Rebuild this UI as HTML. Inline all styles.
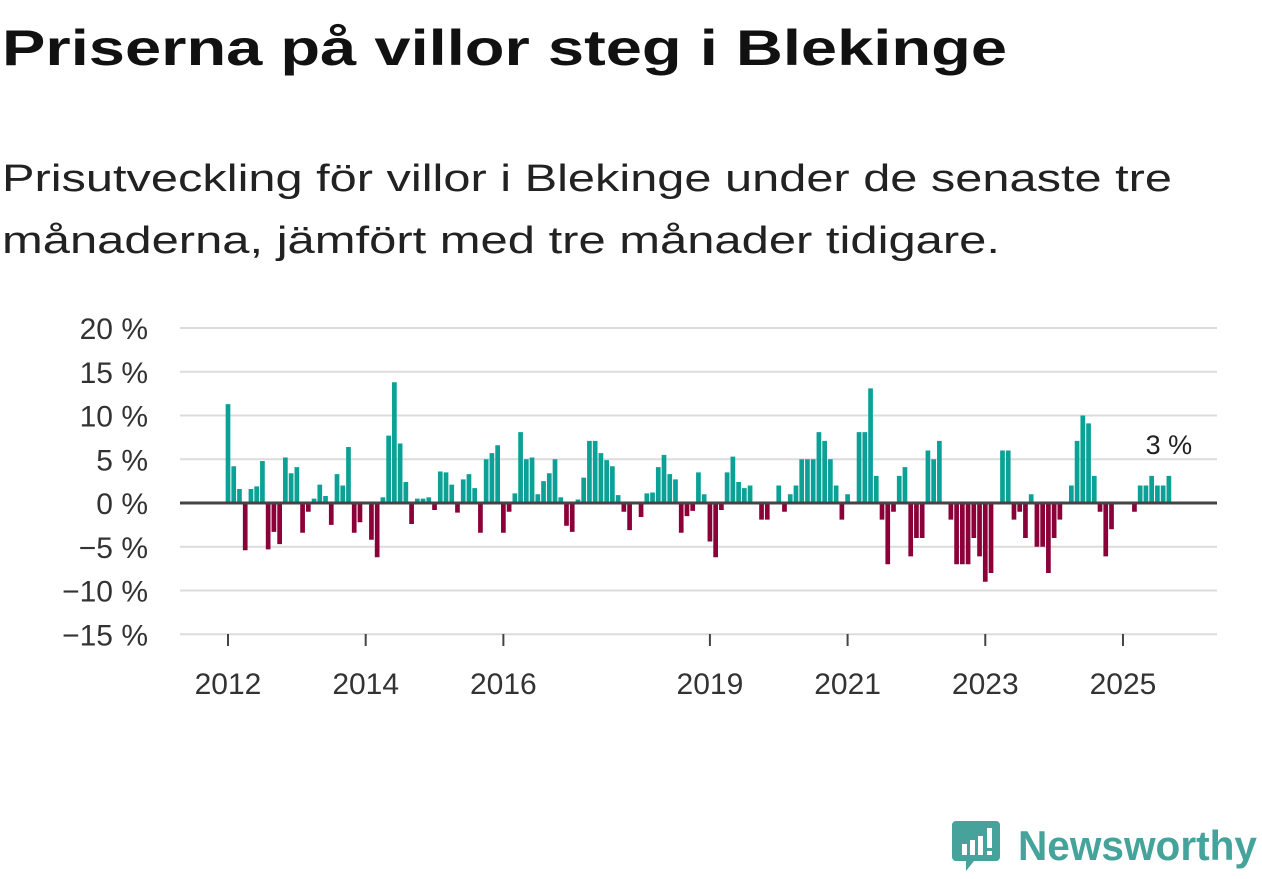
<!DOCTYPE html>
<html><head><meta charset="utf-8">
<style>
html,body{margin:0;padding:0;background:#fff;}
svg{display:block;font-family:"Liberation Sans","DejaVu Sans",sans-serif;}
</style></head>
<body>
<svg id="chart" width="1262" height="879" viewBox="0 0 1262 879" xmlns="http://www.w3.org/2000/svg">
  <text x="2" y="65" font-size="50" font-weight="bold" fill="#111" textLength="1005" lengthAdjust="spacingAndGlyphs">Priserna på villor steg i Blekinge</text>
  <text x="2" y="191" font-size="38" fill="#222" textLength="1170" lengthAdjust="spacingAndGlyphs">Prisutveckling för villor i Blekinge under de senaste tre</text>
  <text x="2" y="253" font-size="38" fill="#222" textLength="998" lengthAdjust="spacingAndGlyphs">månaderna, jämfört med tre månader tidigare.</text>
  <g id="grid"></g>
  <g id="ylabels"></g>
  <g id="bars"></g>
  <line x1="180" x2="1217" y1="503" y2="503" stroke="#444" stroke-width="3"/>
  <g id="xaxis"></g>
  <g id="annot"></g>
  <g>
    <path d="M956 821 h40 a4 4 0 0 1 4 4 v32 a4 4 0 0 1 -4 4 h-22 l-8 10 v-10 h-10 a4 4 0 0 1 -4 -4 v-32 a4 4 0 0 1 4 -4z" fill="#45a39c"/>
    <rect x="962" y="844" width="5" height="11" fill="#fff"/>
    <rect x="970" y="840" width="5" height="15" fill="#fff"/>
    <rect x="978" y="836" width="5" height="19" fill="#fff"/>
    <rect x="987" y="828" width="5" height="20" fill="#fff"/>
    <rect x="987" y="851" width="5" height="4" fill="#fff"/>
    <text x="1018" y="860" font-size="42" font-weight="bold" fill="#45a39c" textLength="239" lengthAdjust="spacingAndGlyphs">Newsworthy</text>
  </g>
</svg>
<script>
const startYear = 2012;
const values = [
 11.3,4.2,1.6,-5.4,1.6,1.9,4.8,-5.3,-3.3,-4.7,5.2,3.4,
 4.1,-3.4,-1.0,0.5,2.1,0.8,-2.5,3.3,2.0,6.4,-3.4,-2.2,
 0,-4.2,-6.2,0.65,7.7,13.8,6.8,2.4,-2.4,0.5,0.5,0.65,
 -0.8,3.6,3.5,2.1,-1.1,2.7,3.3,1.7,-3.4,5.0,5.7,6.6,
 -3.4,-1.0,1.1,8.1,5.0,5.2,1.0,2.5,3.4,5.0,0.65,-2.6,
 -3.3,0.4,2.9,7.1,7.1,5.7,4.9,4.2,0.9,-1.0,-3.1,0,
 -1.6,1.1,1.2,4.1,5.5,3.3,2.7,-3.4,-1.5,-0.9,3.5,1.0,
 -4.4,-6.2,-0.8,3.5,5.3,2.4,1.7,2.0,0,-1.9,-1.9,0,
 2.0,-1.0,1.0,2.0,5.0,5.0,5.0,8.1,7.1,5.0,2.0,-1.9,
 1.0,0,8.1,8.1,13.1,3.1,-1.9,-7.0,-1.0,3.1,4.1,-6.1,
 -4.0,-4.0,6.0,5.0,7.1,0,-1.9,-7.0,-7.0,-7.0,-4.0,-6.1,
 -9.0,-8.0,0,6.0,6.0,-1.9,-1.0,-4.0,1.0,-5.0,-5.0,-8.0,
 -4.0,-1.9,0,2.0,7.1,10.0,9.1,3.1,-1.0,-6.1,-3.0,0,
 0,0,-1.0,2.0,2.0,3.1,2.0,2.0,3.1
];
const yTicks = [20,15,10,5,0,-5,-10,-15];
const yTickLabels = ["20 %","15 %","10 %","5 %","0 %","\u221210 %".replace("10","5"),"\u221210 %","\u221215 %"];
const xTickYears = [2012,2014,2016,2019,2021,2023,2025];
const lastLabel = "3 %";

const NS = "http://www.w3.org/2000/svg";
const x0 = 228, pxPerMonth = 5.737, zeroY = 503, pxPerUnit = 8.75, barW = 4.7;
function xScale(i){ return x0 + i*pxPerMonth; }
function yScale(v){ return zeroY - v*pxPerUnit; }
function mk(tag, attrs, parent){ const e=document.createElementNS(NS,tag); for(const k in attrs) e.setAttribute(k,attrs[k]); parent.appendChild(e); return e; }

const grid = document.getElementById('grid');
const yl = document.getElementById('ylabels');
yTicks.forEach((t,k)=>{
  if(t!==0){
    const l = mk('line',{x1:180,x2:1217,y1:yScale(t),y2:yScale(t),stroke:'#dcdcdc','stroke-width':2},grid);
    
    
  }
  const tx = mk('text',{x:148,y:yScale(t)+11,'font-size':30,fill:'#333','text-anchor':'end'},yl);
  tx.textContent = yTickLabels[k];
  
  
});

const bars = document.getElementById('bars');
values.forEach((v,i)=>{
  if(v===0) return;
  const y = v>0 ? yScale(v) : zeroY;
  const r = mk('rect',{x:xScale(i)-barW/2,y:y,width:barW,height:Math.abs(v)*pxPerUnit,fill:v>0?'#0ba197':'#8b0038'},bars);
  
  
});

const xa = document.getElementById('xaxis');
xTickYears.forEach(yr=>{
  const x = xScale((yr-startYear)*12);
  const tk = mk('line',{x1:x,x2:x,y1:634,y2:646,stroke:'#444','stroke-width':2},xa);
  
  
  const tx = mk('text',{x:x,y:694,'font-size':30,fill:'#333','text-anchor':'middle'},xa);
  tx.textContent = String(yr);
  
  
});

const an = document.getElementById('annot');
const li = values.length-1;
const ax = xScale(li);
const at = mk('text',{x:ax,y:yScale(values[li])-22,'font-size':27,fill:'#222','text-anchor':'middle',stroke:'#fff','stroke-width':6,'paint-order':'stroke'},an);
at.textContent = lastLabel;


</script>
</body></html>
